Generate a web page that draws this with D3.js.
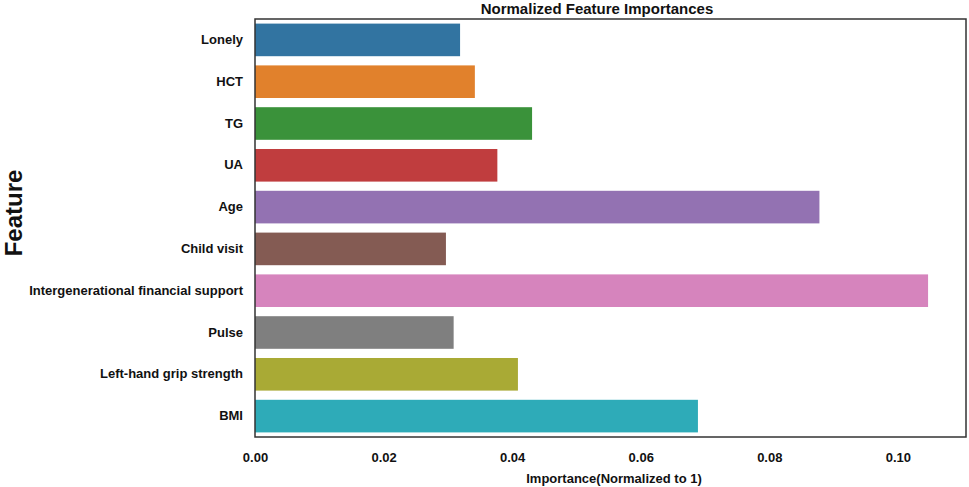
<!DOCTYPE html>
<html><head><meta charset="utf-8">
<script src="https://cdn.jsdelivr.net/npm/d3@7"></script>
<style>body{margin:0;background:#fff}text{font-family:"Liberation Sans",Arial,sans-serif;font-weight:bold;fill:#111}</style>
</head><body><svg id="c" width="969" height="487"></svg>
<script>
const features = ["Lonely","HCT","TG","UA","Age","Child visit","Intergenerational financial support","Pulse","Left-hand grip strength","BMI"];
const importances = [0.0319,0.0342,0.0431,0.0377,0.0878,0.0297,0.1047,0.0309,0.0409,0.0689];
const colors = ["#3274a1","#e1812c","#3a923a","#c03d3e","#9372b2","#845b53","#d684bd","#7f7f7f","#a9aa35","#2eabb8"];
const xTicks = [0,0.02,0.04,0.06,0.08,0.10];

const svg = d3.select("#c");
const m = {l:255, r:966, t:19, b:437};
const x = d3.scaleLinear().domain([0,0.1106]).range([m.l, m.r]);
const y = d3.scaleBand().domain(features).range([m.t, m.b]).paddingInner(0.22).paddingOuter(0.11);

svg.selectAll("rect.bar").data(features).join("rect")
  .attr("x", x(0)).attr("y", d=>y(d)).attr("height", y.bandwidth())
  .attr("width", (d,i)=>x(importances[i])-x(0))
  .attr("fill", (d,i)=>colors[i]);

svg.append("rect").attr("x",m.l).attr("y",m.t).attr("width",m.r-m.l).attr("height",m.b-m.t)
  .attr("fill","none").attr("stroke","#333").attr("stroke-width",1.5);

const xa = svg.append("g").attr("transform",`translate(0,${m.b})`)
  .call(d3.axisBottom(x).tickValues(xTicks).tickFormat(d3.format(".2f")).tickSize(0).tickPadding(16));
xa.select(".domain").remove();
xa.selectAll("text").attr("font-size",13).style("font-weight","bold");

const ya = svg.append("g").attr("transform",`translate(${m.l},0)`)
  .call(d3.axisLeft(y).tickSize(0).tickPadding(12));
ya.select(".domain").remove();
ya.selectAll("text").attr("font-size",13).style("font-weight","bold");

svg.append("text").attr("x",597).attr("y",14).attr("text-anchor","middle").attr("font-size",15).text("Normalized Feature Importances");
svg.append("text").attr("x",614).attr("y",483).attr("text-anchor","middle").attr("font-size",13).text("Importance(Normalized to 1)");
svg.append("text").attr("transform","translate(22,213) rotate(-90)").attr("text-anchor","middle").attr("font-size",24).text("Feature");
</script></body></html>
